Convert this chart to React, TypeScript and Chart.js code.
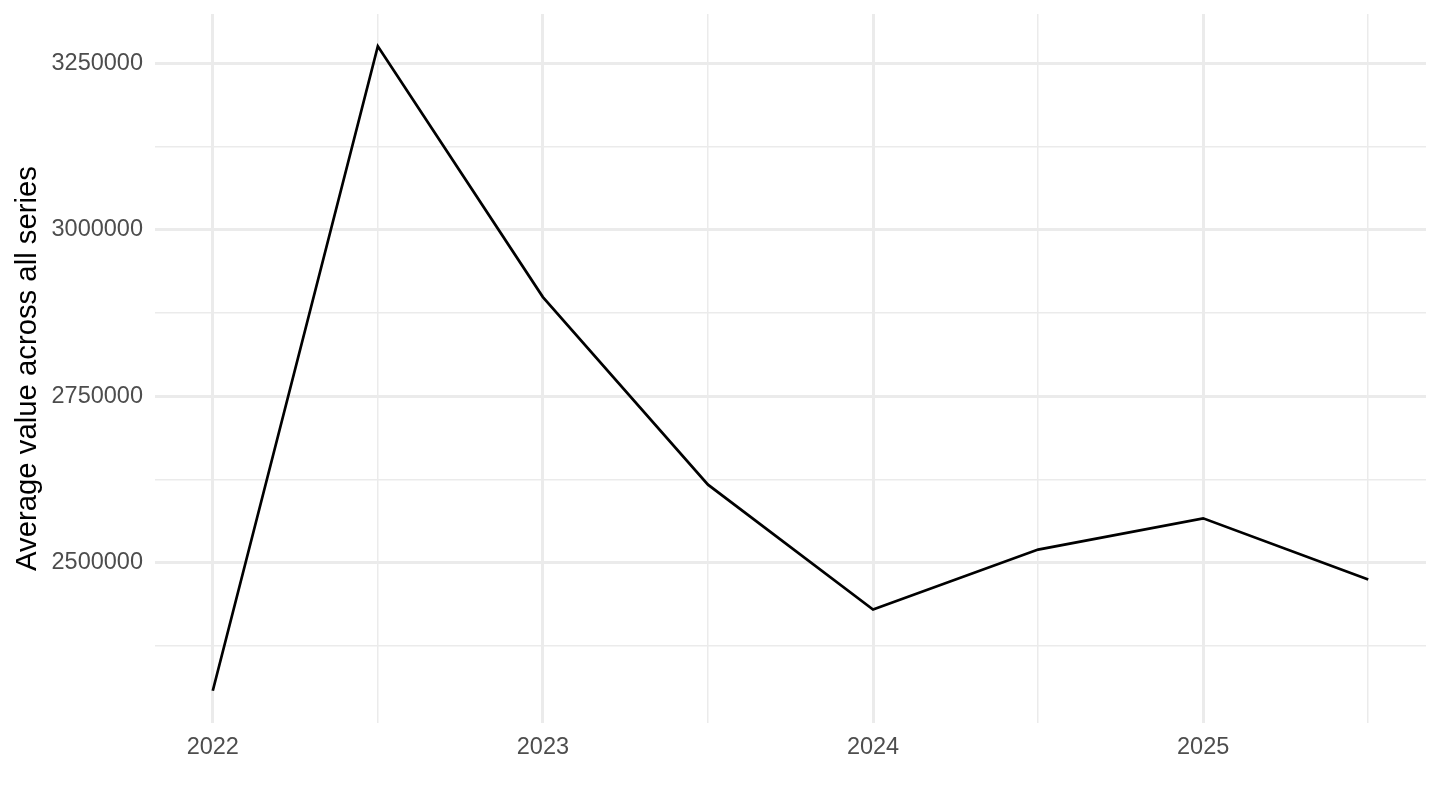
import React, { useEffect, useRef } from "react";
import { Chart, registerables } from "chart.js";

Chart.register(...registerables);

const periods: number[] = [2022, 2022.5, 2023, 2023.5, 2024, 2024.5, 2025, 2025.5];
const averageValues: number[] = [2308000, 3275900, 2899200, 2617500, 2430000, 2520000, 2567000, 2475000];
const xTickValues: number[] = [2022, 2022.5, 2023, 2023.5, 2024, 2024.5, 2025, 2025.5];
const yTickValues: number[] = [2375000, 2500000, 2625000, 2750000, 2875000, 3000000, 3125000, 3250000];
const yLabelValues: number[] = [2500000, 2750000, 3000000, 3250000];
const yAxisTitle = "Average value across all series";

export default function App() {
  const canvasRef = useRef<HTMLCanvasElement | null>(null);

  useEffect(() => {
    const canvas = canvasRef.current;
    if (!canvas) return;
    const xMinData = Math.min(...periods);
    const xMaxData = Math.max(...periods);
    const xPad = (xMaxData - xMinData) * 0.05;
    const yMinData = Math.min(...averageValues);
    const yMaxData = Math.max(...averageValues);
    const yPad = (yMaxData - yMinData) * 0.05;
    const font = "Liberation Sans, Arial, Helvetica, sans-serif";

    const chart = new Chart(canvas, {
      type: "line",
      data: {
        datasets: [
          {
            data: periods.map((p, i) => ({ x: p, y: averageValues[i] })),
            borderColor: "#000000",
            borderWidth: 2.7,
            pointRadius: 0,
            tension: 0,
            fill: false,
          },
        ],
      },
      options: {
        animation: false,
        responsive: false,
        layout: { padding: { top: 14, right: 14, left: 0, bottom: 0 } },
        plugins: { legend: { display: false }, tooltip: { enabled: false } },
        scales: {
          x: {
            type: "linear",
            min: xMinData - xPad,
            max: xMaxData + xPad,
            border: { display: false },
            afterBuildTicks: (scale: any) => {
              scale.ticks = xTickValues.map((v) => ({ value: v }));
            },
            afterFit: (scale: any) => {
              scale.height = 87;
              scale.paddingLeft = 0;
              scale.paddingRight = 0;
            },
            grid: {
              color: "#EBEBEB",
              drawTicks: false,
              lineWidth: (ctx: any) => (Number.isInteger(ctx.tick?.value) ? 3 : 1.5),
            },
            ticks: {
              autoSkip: false,
              maxRotation: 0,
              padding: 10,
              color: "#4D4D4D",
              font: { family: font, size: 23.5 },
              callback: (v: any) => (Number.isInteger(Number(v)) ? String(v) : ""),
            },
          },
          y: {
            type: "linear",
            min: yMinData - yPad,
            max: yMaxData + yPad,
            border: { display: false },
            afterBuildTicks: (scale: any) => {
              scale.ticks = yTickValues.map((v) => ({ value: v }));
            },
            afterFit: (scale: any) => {
              scale.width = 155;
              scale.paddingTop = 0;
              scale.paddingBottom = 0;
            },
            grid: {
              color: "#EBEBEB",
              drawTicks: false,
              lineWidth: (ctx: any) => (yLabelValues.includes(ctx.tick?.value) ? 3 : 1.5),
            },
            ticks: {
              autoSkip: false,
              padding: 12,
              color: "#4D4D4D",
              font: { family: font, size: 23.5 },
              callback: (v: any) => (yLabelValues.includes(Number(v)) ? String(v) : ""),
            },
            title: {
              display: true,
              text: yAxisTitle,
              color: "#000000",
              font: { family: font, size: 29.3 },
              padding: { top: 10, bottom: 0 },
            },
          },
        },
      },
    });
    return () => chart.destroy();
  }, []);

  return (
    <div style={{ position: "fixed", left: 0, top: 0, width: 1440, height: 810, background: "#ffffff" }}>
      <canvas ref={canvasRef} width={1440} height={810} style={{ display: "block" }} />
    </div>
  );
}
